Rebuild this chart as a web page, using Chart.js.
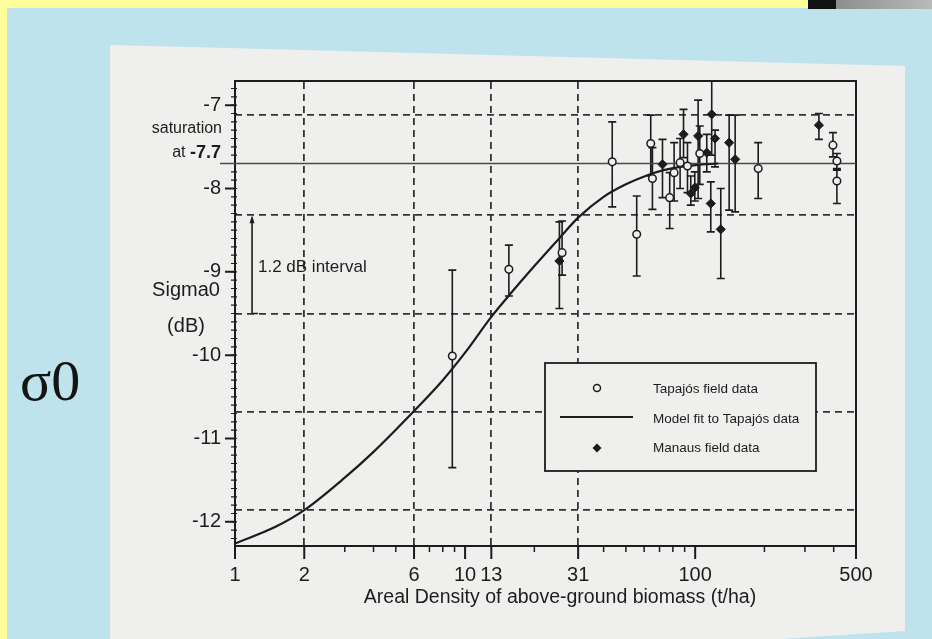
<!DOCTYPE html>
<html>
<head>
<meta charset="utf-8">
<script src="https://cdn.jsdelivr.net/npm/chart.js@4.4.1/dist/chart.umd.min.js"></script>
<style>
  html, body { margin: 0; padding: 0; }
  body { width: 932px; height: 639px; position: relative; overflow: hidden; background: #bfe3ec; }
  #ytop { position: absolute; left: 0; top: 0; width: 932px; height: 8px; background: #ffff9c; }
  #yleft { position: absolute; left: 0; top: 0; width: 7px; height: 639px; background: #ffff9c; }
  #strip { position: absolute; left: 808px; top: 0; width: 124px; height: 9px;
           background: linear-gradient(90deg, #111 0, #111 28px, #8d8d8d 28px, #b9b9b9 100%); }
  #paper { position: absolute; left: 0; top: 0; width: 932px; height: 639px; background: #eff0ee;
           clip-path: polygon(110px 45px, 905px 66px, 905px 631px, 780px 639px, 110px 639px); }
  #sigma { position: absolute; left: 20px; top: 352px; font: 58px "Liberation Serif", "Times New Roman", serif;
           line-height: 58px; color: #141414; }
  #wrap { position: absolute; left: 0; top: 0; width: 932px; height: 639px; }
</style>
</head>
<body>
<div id="ytop"></div>
<div id="yleft"></div>
<div id="strip"></div>
<div id="paper"></div>
<div id="sigma">σ0</div>
<div id="wrap"><canvas id="c" width="932" height="639"></canvas></div>
<script>
// ---------------- data ----------------
const xTickValues = [1, 2, 6, 10, 13, 31, 100, 500];
const xMinorTickValues = [3, 4, 5, 7, 8, 9, 20, 40, 50, 60, 70, 80, 90, 200, 300, 400];
const yTickValues = [-7, -8, -9, -10, -11, -12];
const gridXValues = [2, 6, 13, 31];
const gridYValues = [-7.12, -8.32, -9.5, -10.68, -11.86];
const saturationLevel = -7.7;

// Tapajós field data (open circles)
const tapajosX    = [8.8, 15.5, 26.4, 43.6, 55.7, 64.1, 65.2, 77.5, 81, 86, 92.6, 104.7, 187.9, 397, 413, 413];
const tapajosY    = [-10.01, -8.97, -8.77, -7.68, -8.55, -7.46, -7.88, -8.11, -7.81, -7.69, -7.73, -7.58, -7.76, -7.48, -7.67, -7.91];
const tapajosLow  = [-11.35, -9.29, -9.04, -8.22, -9.05, -7.85, -8.25, -8.48, -8.15, -8.0, -8.05, -7.95, -8.12, -7.62, -7.76, -8.18];
const tapajosHigh = [-8.98, -8.68, -8.39, -7.2, -8.09, -7.12, -7.51, -7.81, -7.45, -7.4, -7.45, -7.25, -7.45, -7.33, -7.58, -7.78];

// Manaus field data (filled diamonds)
const manausX    = [25.7, 72.1, 89, 103, 95.7, 99.6, 118, 122, 112.3, 116.9, 129.2, 140.5, 149.2, 345];
const manausY    = [-8.87, -7.71, -7.35, -7.37, -8.06, -7.99, -7.11, -7.4, -7.57, -8.18, -8.49, -7.45, -7.65, -7.24];
const manausLow  = [-9.44, -8.11, -7.63, -8.12, -8.2, -8.15, -7.6, -7.74, -7.8, -8.52, -9.08, -8.26, -8.28, -7.41];
const manausHigh = [-8.4, -7.41, -7.05, -6.94, -7.85, -7.8, -6.5, -7.3, -7.35, -7.92, -8.0, -7.12, -7.12, -7.1];

// Model fit to Tapajós data (curve)
const modelX = [1, 1.5, 2, 3, 4, 6, 8, 10, 13, 16, 20, 26, 31, 40, 50, 62, 73, 86, 100, 126];
const modelY = [-12.26, -12.06, -11.86, -11.47, -11.16, -10.67, -10.3, -9.97, -9.54, -9.24, -8.93, -8.58, -8.35, -8.1, -7.95, -7.84, -7.78, -7.74, -7.72, -7.7];

// ---------------- styling ----------------
const INK = '#1c1c1c';
const PAPER = '#eff0ee';
const SANS = '"Liberation Sans", Arial, sans-serif';

const pts = (xs, ys) => xs.map((x, i) => ({ x: x, y: ys[i] }));

const deco = {
  id: 'deco',
  beforeDatasetsDraw(chart) {
    const { ctx, chartArea: a, scales: { x, y } } = chart;
    ctx.save();
    ctx.strokeStyle = INK;
    ctx.lineWidth = 1.5;
    ctx.beginPath();
    xMinorTickValues.forEach(v => { const p = x.getPixelForValue(v); ctx.moveTo(p, a.bottom); ctx.lineTo(p, a.bottom + 6); });
    ctx.stroke();
    ctx.lineWidth = 2;
    ctx.beginPath();
    xTickValues.forEach(v => { const p = x.getPixelForValue(v); ctx.moveTo(p, a.bottom); ctx.lineTo(p, a.bottom + 13); });
    ctx.stroke();
    ctx.lineWidth = 1.2;
    ctx.beginPath();
    for (let k = -122; k <= -68; k++) { const p = y.getPixelForValue(k / 10); ctx.moveTo(a.left - 4, p); ctx.lineTo(a.left + 2, p); }
    ctx.stroke();
    ctx.lineWidth = 2;
    ctx.beginPath();
    yTickValues.forEach(v => { const p = y.getPixelForValue(v); ctx.moveTo(a.left - 10, p); ctx.lineTo(a.left, p); });
    ctx.stroke();
    // error bars
    ctx.beginPath();
    ctx.rect(a.left, a.top, a.right - a.left, a.bottom - a.top);
    ctx.clip();
    chart.data.datasets.forEach(ds => {
      if (!ds.errLow) return;
      ctx.strokeStyle = INK;
      ctx.lineWidth = 1.6;
      ctx.beginPath();
      ds.data.forEach((pt, j) => {
        const px = x.getPixelForValue(pt.x);
        const pl = y.getPixelForValue(ds.errLow[j]);
        const ph = y.getPixelForValue(ds.errHigh[j]);
        ctx.moveTo(px, pl); ctx.lineTo(px, ph);
        ctx.moveTo(px - 4, pl); ctx.lineTo(px + 4, pl);
        ctx.moveTo(px - 4, ph); ctx.lineTo(px + 4, ph);
      });
      ctx.stroke();
    });
    ctx.restore();
  },
  afterDatasetsDraw(chart) {
    const { ctx, scales: { x, y } } = chart;
    ctx.save();
    ctx.fillStyle = INK;
    ctx.strokeStyle = INK;
    ctx.textBaseline = 'middle';

    // saturation annotation
    ctx.textAlign = 'right';
    ctx.font = '16px ' + SANS;
    ctx.fillText('saturation', 222, 129);
    ctx.font = 'bold 18px ' + SANS;
    const w77 = ctx.measureText('-7.7').width;
    ctx.fillText('-7.7', 221, 153);
    ctx.font = '16px ' + SANS;
    ctx.fillText('at ', 221 - w77, 153);

    // y axis title (horizontal)
    ctx.textAlign = 'center';
    ctx.font = '20px ' + SANS;
    ctx.fillText('Sigma0', 186, 290);
    ctx.fillText('(dB)', 186, 326);

    // 1.2 dB interval arrow
    const ax = x.getPixelForValue(1.186);
    const yT = y.getPixelForValue(gridYValues[1]);
    const yB = y.getPixelForValue(gridYValues[2]);
    ctx.lineWidth = 1.6;
    ctx.beginPath();
    ctx.moveTo(ax, yB); ctx.lineTo(ax, yT + 4);
    ctx.moveTo(ax, yB); ctx.lineTo(ax + 6, yB);
    ctx.stroke();
    ctx.beginPath();
    ctx.moveTo(ax, yT); ctx.lineTo(ax - 2.5, yT + 8); ctx.lineTo(ax + 2.5, yT + 8); ctx.closePath();
    ctx.fill();
    ctx.textAlign = 'left';
    ctx.font = '17px ' + SANS;
    ctx.fillText('1.2 dB interval', 258, 267);

    // x axis title
    ctx.textAlign = 'center';
    ctx.font = '19.5px ' + SANS;
    ctx.fillText('Areal Density of above-ground biomass (t/ha)', 560, 598);

    // legend
    ctx.fillStyle = PAPER;
    ctx.fillRect(545, 363, 271, 108);
    ctx.lineWidth = 1.8;
    ctx.strokeRect(545, 363, 271, 108);
    ctx.fillStyle = PAPER;
    ctx.lineWidth = 1.5;
    ctx.beginPath(); ctx.arc(597, 388, 3.5, 0, Math.PI * 2); ctx.fill(); ctx.stroke();
    ctx.lineWidth = 2.2;
    ctx.beginPath(); ctx.moveTo(560, 417); ctx.lineTo(633, 417); ctx.stroke();
    ctx.fillStyle = INK;
    ctx.beginPath(); ctx.moveTo(597, 443.5); ctx.lineTo(601.5, 448); ctx.lineTo(597, 452.5); ctx.lineTo(592.5, 448); ctx.closePath(); ctx.fill();
    ctx.textAlign = 'left';
    ctx.font = '13.5px ' + SANS;
    ctx.fillText('Tapajós field data', 653, 389);
    ctx.fillText('Model fit to Tapajós data', 653, 419);
    ctx.fillText('Manaus field data', 653, 448);
    ctx.restore();
  }
};

new Chart(document.getElementById('c'), {
  type: 'scatter',
  data: {
    datasets: [
      {
        label: 'Tapajós field data',
        data: pts(tapajosX, tapajosY),
        errLow: tapajosLow, errHigh: tapajosHigh,
        pointStyle: 'circle', pointRadius: 3.8, pointBorderWidth: 1.5,
        pointBackgroundColor: PAPER, pointBorderColor: INK,
        showLine: false, order: 1
      },
      {
        label: 'Manaus field data',
        data: pts(manausX, manausY),
        errLow: manausLow, errHigh: manausHigh,
        pointStyle: 'rectRot', pointRadius: 4.6, pointBorderWidth: 1,
        pointBackgroundColor: INK, pointBorderColor: INK,
        showLine: false, order: 2
      },
      {
        label: 'Model fit to Tapajós data',
        type: 'line',
        data: pts(modelX, modelY),
        borderColor: INK, borderWidth: 2.2, pointRadius: 0,
        cubicInterpolationMode: 'monotone', fill: false, order: 3
      },
      {
        label: 'saturation',
        type: 'line',
        data: [{ x: 0.86, y: saturationLevel }, { x: 500, y: saturationLevel }],
        borderColor: '#4a4a4a', borderWidth: 1.3, pointRadius: 0,
        fill: false, clip: false, order: 4
      }
    ]
  },
  options: {
    responsive: false,
    animation: false,
    devicePixelRatio: 1,
    layout: { padding: { left: 0, right: 76, top: 81, bottom: 0 } },
    plugins: { legend: { display: false }, tooltip: { enabled: false } },
    scales: {
      x: {
        type: 'logarithmic', position: 'bottom', min: 1, max: 500,
        afterBuildTicks: s => { s.ticks = xTickValues.map(v => ({ value: v })); },
        afterFit: s => { s.height = 93; },
        grid: { display: false, drawTicks: false },
        border: { display: true, color: INK, width: 2 },
        ticks: { callback: v => String(v), autoSkip: false, maxRotation: 0, padding: 17,
                 color: INK, font: { family: SANS, size: 20 } }
      },
      xg: {
        type: 'logarithmic', position: 'top', min: 1, max: 500,
        afterBuildTicks: s => { s.ticks = gridXValues.map(v => ({ value: v })); },
        afterFit: s => { s.height = 0; },
        ticks: { display: false },
        grid: { drawTicks: false, color: '#333', lineWidth: 1.8 },
        border: { display: true, color: INK, width: 2, dash: [7, 5] }
      },
      y: {
        type: 'linear', position: 'left', min: -12.29, max: -6.71,
        afterBuildTicks: s => { s.ticks = yTickValues.map(v => ({ value: v })); },
        afterFit: s => { s.width = 235; },
        grid: { display: false, drawTicks: false },
        border: { display: true, color: INK, width: 2 },
        ticks: { padding: 14, color: INK, font: { family: SANS, size: 20 } }
      },
      yg: {
        type: 'linear', position: 'right', min: -12.29, max: -6.71,
        afterBuildTicks: s => { s.ticks = gridYValues.map(v => ({ value: v })); },
        afterFit: s => { s.width = 0; },
        ticks: { display: false },
        grid: { drawTicks: false, color: '#333', lineWidth: 1.8 },
        border: { display: true, color: INK, width: 2, dash: [7, 5] }
      }
    }
  },
  plugins: [deco]
});
</script>
</body>
</html>
